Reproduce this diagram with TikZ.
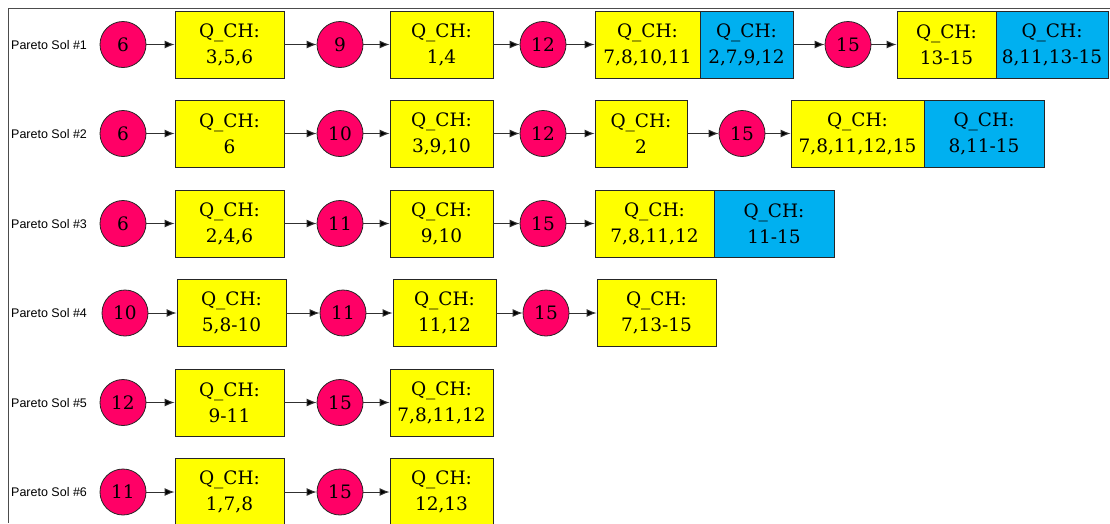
\documentclass[tikz,border=0pt]{standalone}
\usepackage{fontspec}
\setmainfont{DejaVu Serif}
\newfontfamily\lblfont{Liberation Sans}
\usetikzlibrary{arrows.meta}
\definecolor{cpink}{HTML}{FF0066}
\definecolor{cyel}{HTML}{FFFF00}
\definecolor{ccyan}{HTML}{00B0F0}
\definecolor{cline}{HTML}{303030}
\tikzset{
  circ/.style={circle, draw=black!85, line width=0.8pt, fill=cpink, minimum size=46pt, inner sep=0pt, font=\fontsize{18.5}{22}\selectfont},
  qbox/.style={rectangle, draw=black!85, line width=0.9pt, fill=cyel, minimum height=67pt, inner sep=0pt, align=center, font=\fontsize{18.5}{26}\selectfont},
  cbox/.style={qbox, fill=ccyan},
  lbl/.style={anchor=base west, inner sep=0pt, font=\lblfont\fontsize{12.5}{14}\selectfont},
  arr/.style={draw=cline, line width=1pt, -{Latex[length=10pt,width=8pt,fill=black]}},
  framel/.style={draw=black!70, line width=1pt}
}
\newcommand{\qb}[6]{\node[#5, minimum width={#3-#2}] (#1) at ({(#2+#3)/2},#4) {Q\_CH:\\#6};}
\begin{document}
\begin{tikzpicture}[x=1pt,y=-1pt]
\useasboundingbox (0,0) rectangle (1110,523);
\clip (0,0) rectangle (1110,523);
\draw[framel] (1110,8.5) -- (8.5,8.5) -- (8.5,523);

% Row 1
\node[lbl] (l1) at (11,49) {Pareto Sol \#1};
\node[circ] (a1) at (123,44.5) {6};
\qb{b1}{175}{284}{44.5}{qbox}{3,5,6}
\node[circ] (a2) at (340,44.5) {9};
\qb{b2}{390}{493}{44.5}{qbox}{1,4}
\node[circ] (a3) at (543,44.5) {12};
\qb{b3}{595}{700}{44.5}{qbox}{7,8,10,11}
\qb{b3c}{700}{793}{44.5}{cbox}{2,7,9,12}
\node[circ] (a4) at (848,44.5) {15};
\qb{b4}{897}{996}{44.5}{qbox}{13-15}
\qb{b4c}{996}{1108}{44.5}{cbox}{8,11,13-15}
\draw[arr] (a1) -- (b1);
\draw[arr] (b1) -- (a2);
\draw[arr] (a2) -- (b2);
\draw[arr] (b2) -- (a3);
\draw[arr] (a3) -- (b3);
\draw[arr] (b3c) -- (a4);
\draw[arr] (a4) -- (b4);

% Row 2
\node[lbl] (l2) at (11,138) {Pareto Sol \#2};
\node[circ] (c1) at (123,133.5) {6};
\qb{d1}{175}{284}{133.5}{qbox}{6}
\node[circ] (c2) at (340,133.5) {10};
\qb{d2}{390}{493}{133.5}{qbox}{3,9,10}
\node[circ] (c3) at (543,133.5) {12};
\qb{d3}{595}{687}{133.5}{qbox}{2}
\node[circ] (c4) at (742,133.5) {15};
\qb{d4}{791}{924}{133.5}{qbox}{7,8,11,12,15}
\qb{d4c}{924}{1044}{133.5}{cbox}{8,11-15}
\draw[arr] (c1) -- (d1);
\draw[arr] (d1) -- (c2);
\draw[arr] (c2) -- (d2);
\draw[arr] (d2) -- (c3);
\draw[arr] (c3) -- (d3);
\draw[arr] (d3) -- (c4);
\draw[arr] (c4) -- (d4);

% Row 3
\node[lbl] (l3) at (11,228) {Pareto Sol \#3};
\node[circ] (e1) at (123,223.5) {6};
\qb{f1}{175}{284}{223.5}{qbox}{2,4,6}
\node[circ] (e2) at (340,223.5) {11};
\qb{f2}{390}{493}{223.5}{qbox}{9,10}
\node[circ] (e3) at (543,223.5) {15};
\qb{f3}{595}{714}{223.5}{qbox}{7,8,11,12}
\qb{f3c}{714}{834}{223.5}{cbox}{11-15}
\draw[arr] (e1) -- (f1);
\draw[arr] (f1) -- (e2);
\draw[arr] (e2) -- (f2);
\draw[arr] (f2) -- (e3);
\draw[arr] (e3) -- (f3);

% Row 4
\node[lbl] (l4) at (11,317.5) {Pareto Sol \#4};
\node[circ] (g1) at (125,313) {10};
\qb{h1}{177}{286}{313}{qbox}{5,8-10}
\node[circ] (g2) at (343,313) {11};
\qb{h2}{393}{496}{313}{qbox}{11,12}
\node[circ] (g3) at (546,313) {15};
\qb{h3}{597}{716}{313}{qbox}{7,13-15}
\draw[arr] (g1) -- (h1);
\draw[arr] (h1) -- (g2);
\draw[arr] (g2) -- (h2);
\draw[arr] (h2) -- (g3);
\draw[arr] (g3) -- (h3);

% Row 5
\node[lbl] (l5) at (11,407) {Pareto Sol \#5};
\node[circ] (i1) at (123,402.5) {12};
\qb{j1}{175}{284}{402.5}{qbox}{9-11}
\node[circ] (i2) at (340,402.5) {15};
\qb{j2}{390}{493}{402.5}{qbox}{7,8,11,12}
\draw[arr] (i1) -- (j1);
\draw[arr] (j1) -- (i2);
\draw[arr] (i2) -- (j2);

% Row 6
\node[lbl] (l6) at (11,496.5) {Pareto Sol \#6};
\node[circ] (k1) at (123,492) {11};
\qb{m1}{175}{284}{492}{qbox}{1,7,8}
\node[circ] (k2) at (340,492) {15};
\qb{m2}{390}{493}{492}{qbox}{12,13}
\draw[arr] (k1) -- (m1);
\draw[arr] (m1) -- (k2);
\draw[arr] (k2) -- (m2);
\end{tikzpicture}
\end{document}
